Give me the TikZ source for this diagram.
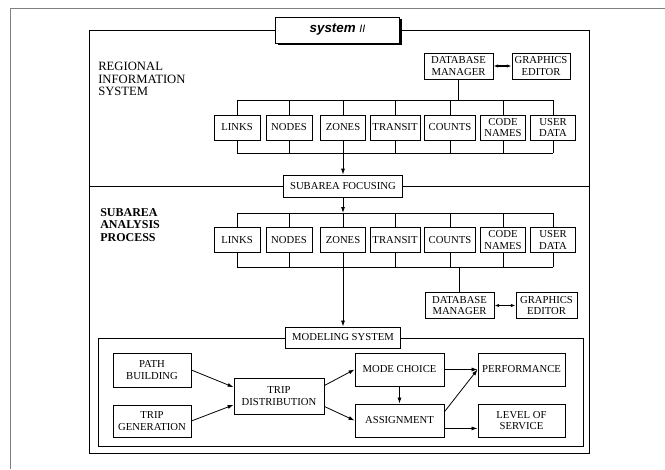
\documentclass[tikz,border=0pt]{standalone}
\usepackage{fontspec}
\setmainfont{Liberation Serif}
\newfontfamily\titlefont{Liberation Sans}
\usetikzlibrary{arrows.meta,shadows}
\tikzset{
  box/.style={draw,fill=white,align=center,inner xsep=1.5pt,inner ysep=1pt,font=\fontsize{8}{8.6}\selectfont,line width=0.6pt},
  rowbox/.style={box,minimum height=18.8pt},
  dbbox/.style={box,minimum height=19.5pt},
  modelbox/.style={box,minimum width=66.8pt,minimum height=24.8pt},
  inputbox/.style={box,minimum width=58.5pt},
  titlebox/.style={draw,fill=white,line width=0.7pt,drop shadow={shadow xshift=1.5pt,shadow yshift=-1.5pt,fill=black,opacity=1},minimum width=93pt,minimum height=19.5pt,font=\titlefont\bfseries\itshape\fontsize{10}{11}\selectfont},
  sidelabel/.style={anchor=north west,align=left,inner sep=0pt,font=\fontsize{9.5}{9.4}\selectfont},
  bus/.style={line width=0.6pt},
  link/.style={line width=0.6pt,-{Latex[length=4.5pt,width=3pt]}},
  twoway/.style={line width=0.8pt,{Latex[length=3.5pt,width=2.5pt]}-{Latex[length=3.5pt,width=2.5pt]}},
  feed/.style={line width=1.2pt},
  boxframe/.style={line width=0.7pt}
}

\begin{document}
\begin{tikzpicture}[x=0.75pt,y=-0.75pt]
  \useasboundingbox (0,0) rectangle (665,469);
  % page edge
  \draw[gray,line width=0.5pt] (10.5,469) -- (10.5,8) -- (665,8);
  % frames
  \draw[boxframe] (89,30) rectangle (589,453);
  \draw[boxframe] (89,186) -- (589,186);
  \draw[boxframe] (98,338) rectangle (583,446);

  % regional information system
  \node[titlebox] (title) at (337.5,30) {system {\mdseries\fontsize{8}{9}\selectfont II}};
  \node[sidelabel] (ris) at (98,62) {REGIONAL\\INFORMATION\\SYSTEM};
  \node[dbbox,minimum width=51.8pt] (dbm1) at (458.5,66) {DATABASE\\MANAGER};
  \node[dbbox,minimum width=43.5pt] (gfx1) at (541,66) {GRAPHICS\\EDITOR};
  \node[rowbox,minimum width=34.5pt] (links1) at (237,127.5) {LINKS};
  \node[rowbox,minimum width=34.5pt] (nodes1) at (289,127.5) {NODES};
  \node[rowbox,minimum width=33.8pt] (zones1) at (343,127.5) {ZONES};
  \node[rowbox,minimum width=37.5pt] (transit1) at (395,127.5) {TRANSIT};
  \node[rowbox,minimum width=38.3pt] (counts1) at (450,127.5) {COUNTS};
  \node[rowbox,minimum width=33.8pt] (code1) at (503,127.5) {CODE\\NAMES};
  \node[rowbox,minimum width=33.8pt] (user1) at (553,127.5) {USER\\DATA};
  \coordinate (busA) at (0,100);
  \coordinate (busB) at (0,153);
  \draw[twoway] (dbm1) -- (gfx1);
  \draw[feed] (dbm1.south) -- (dbm1.south |- busA);
  \draw[bus] (links1.north |- busA) -- (user1.north |- busA)
    (links1.north) -- (links1.north |- busA) (nodes1.north) -- (nodes1.north |- busA)
    (zones1.north) -- (zones1.north |- busA) (transit1.north) -- (transit1.north |- busA)
    (counts1.north) -- (counts1.north |- busA) (code1.north) -- (code1.north |- busA)
    (user1.north) -- (user1.north |- busA);
  \draw[bus] (links1.south |- busB) -- (user1.south |- busB)
    (links1.south) -- (links1.south |- busB) (nodes1.south) -- (nodes1.south |- busB)
    (zones1.south) -- (zones1.south |- busB) (transit1.south) -- (transit1.south |- busB)
    (counts1.south) -- (counts1.south |- busB) (code1.south) -- (code1.south |- busB)
    (user1.south) -- (user1.south |- busB);

  % subarea analysis process
  \node[box,minimum width=89.3pt,minimum height=16.5pt] (focus) at (343,186) {SUBAREA FOCUSING};
  \draw[link] (zones1.south |- busB) -- (focus);
  \node[sidelabel,font=\fontsize{9}{9.4}\selectfont\bfseries] (sap) at (100,208) {SUBAREA\\ANALYSIS\\PROCESS};
  \node[rowbox,minimum width=34.5pt] (links2) at (237,240) {LINKS};
  \node[rowbox,minimum width=34.5pt] (nodes2) at (289,240) {NODES};
  \node[rowbox,minimum width=33.8pt] (zones2) at (343,240) {ZONES};
  \node[rowbox,minimum width=37.5pt] (transit2) at (395,240) {TRANSIT};
  \node[rowbox,minimum width=38.3pt] (counts2) at (450,240) {COUNTS};
  \node[rowbox,minimum width=33.8pt] (code2) at (503,240) {CODE\\NAMES};
  \node[rowbox,minimum width=33.8pt] (user2) at (553,240) {USER\\DATA};
  \coordinate (busC) at (0,213);
  \coordinate (busD) at (0,267);
  \draw[link] (focus) -- (zones2.north |- busC);
  \draw[bus] (links2.north |- busC) -- (user2.north |- busC)
    (links2.north) -- (links2.north |- busC) (nodes2.north) -- (nodes2.north |- busC)
    (zones2.north) -- (zones2.north |- busC) (transit2.north) -- (transit2.north |- busC)
    (counts2.north) -- (counts2.north |- busC) (code2.north) -- (code2.north |- busC)
    (user2.north) -- (user2.north |- busC);
  \draw[bus] (links2.south |- busD) -- (user2.south |- busD)
    (links2.south) -- (links2.south |- busD) (nodes2.south) -- (nodes2.south |- busD)
    (zones2.south) -- (zones2.south |- busD) (transit2.south) -- (transit2.south |- busD)
    (counts2.south) -- (counts2.south |- busD) (code2.south) -- (code2.south |- busD)
    (user2.south) -- (user2.south |- busD);
  \node[dbbox,minimum width=51.8pt] (dbm2) at (459.5,305.5) {DATABASE\\MANAGER};
  \node[dbbox,minimum width=45.8pt] (gfx2) at (546.5,305.5) {GRAPHICS\\EDITOR};
  \draw[feed] (dbm2.north |- busD) -- (dbm2.north);
  \draw[twoway] (dbm2) -- (gfx2);

  % modeling system
  \node[box,minimum width=86.3pt,minimum height=15.8pt] (model) at (343,337.5) {MODELING SYSTEM};
  \draw[link] (zones2.south |- busD) -- (model);
  \node[inputbox,minimum height=25.5pt] (path) at (152,370) {PATH\\BUILDING};
  \node[inputbox,minimum height=24pt] (gen) at (152,421) {TRIP\\GENERATION};
  \node[box,minimum width=67.5pt,minimum height=27pt] (dist) at (279,396) {TRIP\\DISTRIBUTION};
  \node[modelbox] (mode) at (399.5,369.5) {MODE CHOICE};
  \node[modelbox] (assign) at (399.5,420.5) {ASSIGNMENT};
  \node[modelbox,minimum width=65.3pt] (perf) at (521.5,369.5) {PERFORMANCE};
  \node[modelbox,minimum width=65.3pt] (los) at (521.5,420.5) {LEVEL OF\\SERVICE};
  \draw[link] (path.east) -- (dist.169);
  \draw[link] (gen.east) -- (dist.191);
  \draw[link] (dist.13) -- (mode.west);
  \draw[link] (dist.347) -- (assign.west);
  \draw[link] (mode) -- (perf);
  \draw[link] (mode) -- (assign);
  \draw[link] (assign.11) -- (perf.west);
  \draw[link] (assign.350) -- (assign.350 -| los.west);
\end{tikzpicture}
\end{document}
